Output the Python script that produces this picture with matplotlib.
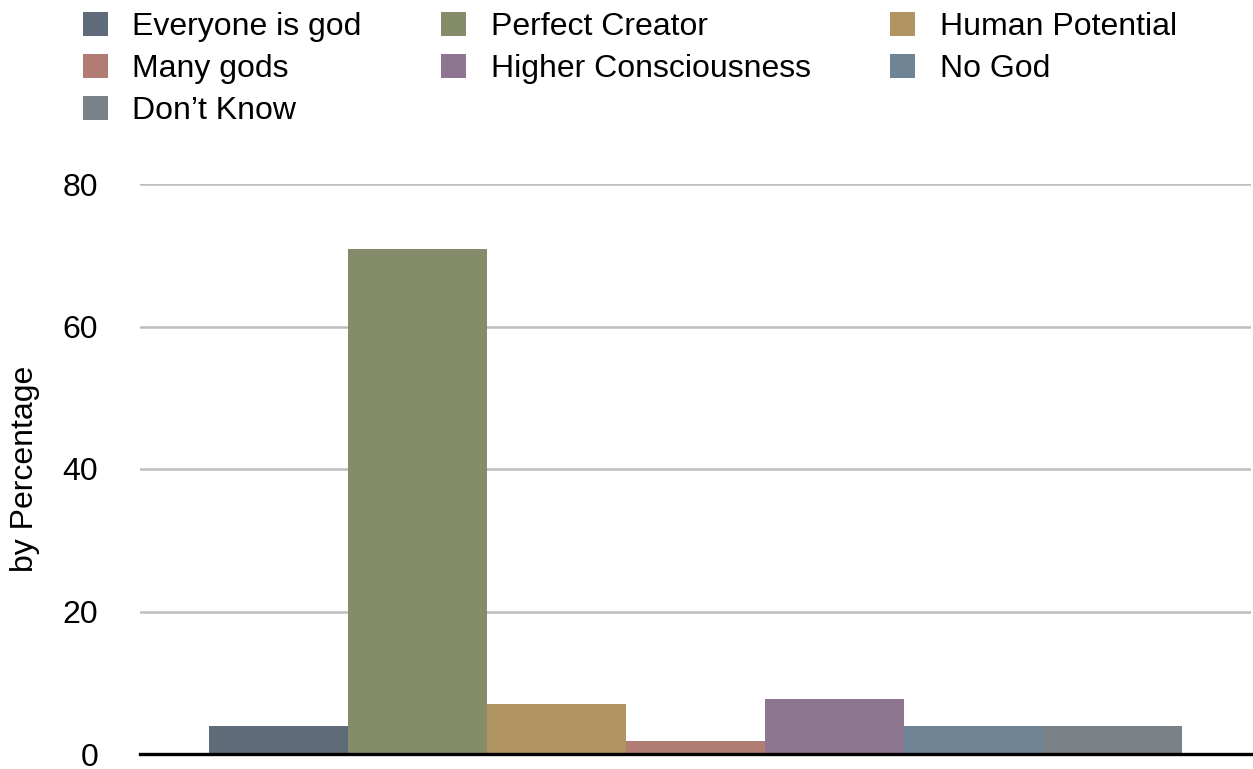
import matplotlib.pyplot as plt
from matplotlib.patches import Patch

plt.rcParams['font.family'] = ['Liberation Sans', 'DejaVu Sans']

# answers to "what is god" survey, by percentage
categories = ["Everyone is god", "Perfect Creator", "Human Potential", "Many gods",
              "Higher Consciousness", "No God", "Don\u2019t Know"]
values = [4.0, 70.9, 7.0, 1.8, 7.7, 4.0, 4.0]
colors = ["#5f6b78", "#858c6a", "#b09461", "#b07c74", "#8f7690", "#6f8494", "#7a8288"]
y_ticks = [0, 20, 40, 60, 80]

fig = plt.figure(figsize=(12.53, 7.69), dpi=100)
ax = fig.add_axes([140 / 1253, 1 - 754 / 769, 1 - 142 / 1253, (754 - 184) / 769])

x = list(range(len(categories)))
bars = ax.bar(x, values, width=1.0, color=colors, edgecolor="none", zorder=2)

ax.set_xlim(-1.0, 7.0)
ax.set_ylim(0, 80)
ax.set_yticks(y_ticks)
ax.set_xticks([])
ax.tick_params(axis="y", length=0, pad=30, labelsize=23)
ax.yaxis.grid(True, color="#bdbdbd", linewidth=1.8, zorder=0)
ax.set_axisbelow(True)
for side in ["top", "right", "left"]:
    ax.spines[side].set_visible(False)
ax.spines["bottom"].set_linewidth(2.4)
ax.spines["bottom"].set_color("black")
ax.spines["bottom"].set_zorder(3)

ax.set_ylabel("by Percentage", fontsize=23)
ax.yaxis.set_label_coords(-100 / 1111, 0.5)

# legend fills column by column, reorder so it reads row by row
order = [0, 3, 6, 1, 4, 2, 5]
handles = [Patch(facecolor=colors[i], edgecolor="none") for i in order]
labels = [categories[i] for i in order]
fig.legend(handles, labels, loc="upper left", ncol=3,
           bbox_to_anchor=(83 / 1253, 1 - 12 / 769), frameon=False,
           fontsize=23, borderpad=0, borderaxespad=0,
           handlelength=0.77, handleheight=0.77, handletextpad=0.77,
           columnspacing=2.5, labelspacing=0.38)

fig.savefig("out.png", dpi=100)
